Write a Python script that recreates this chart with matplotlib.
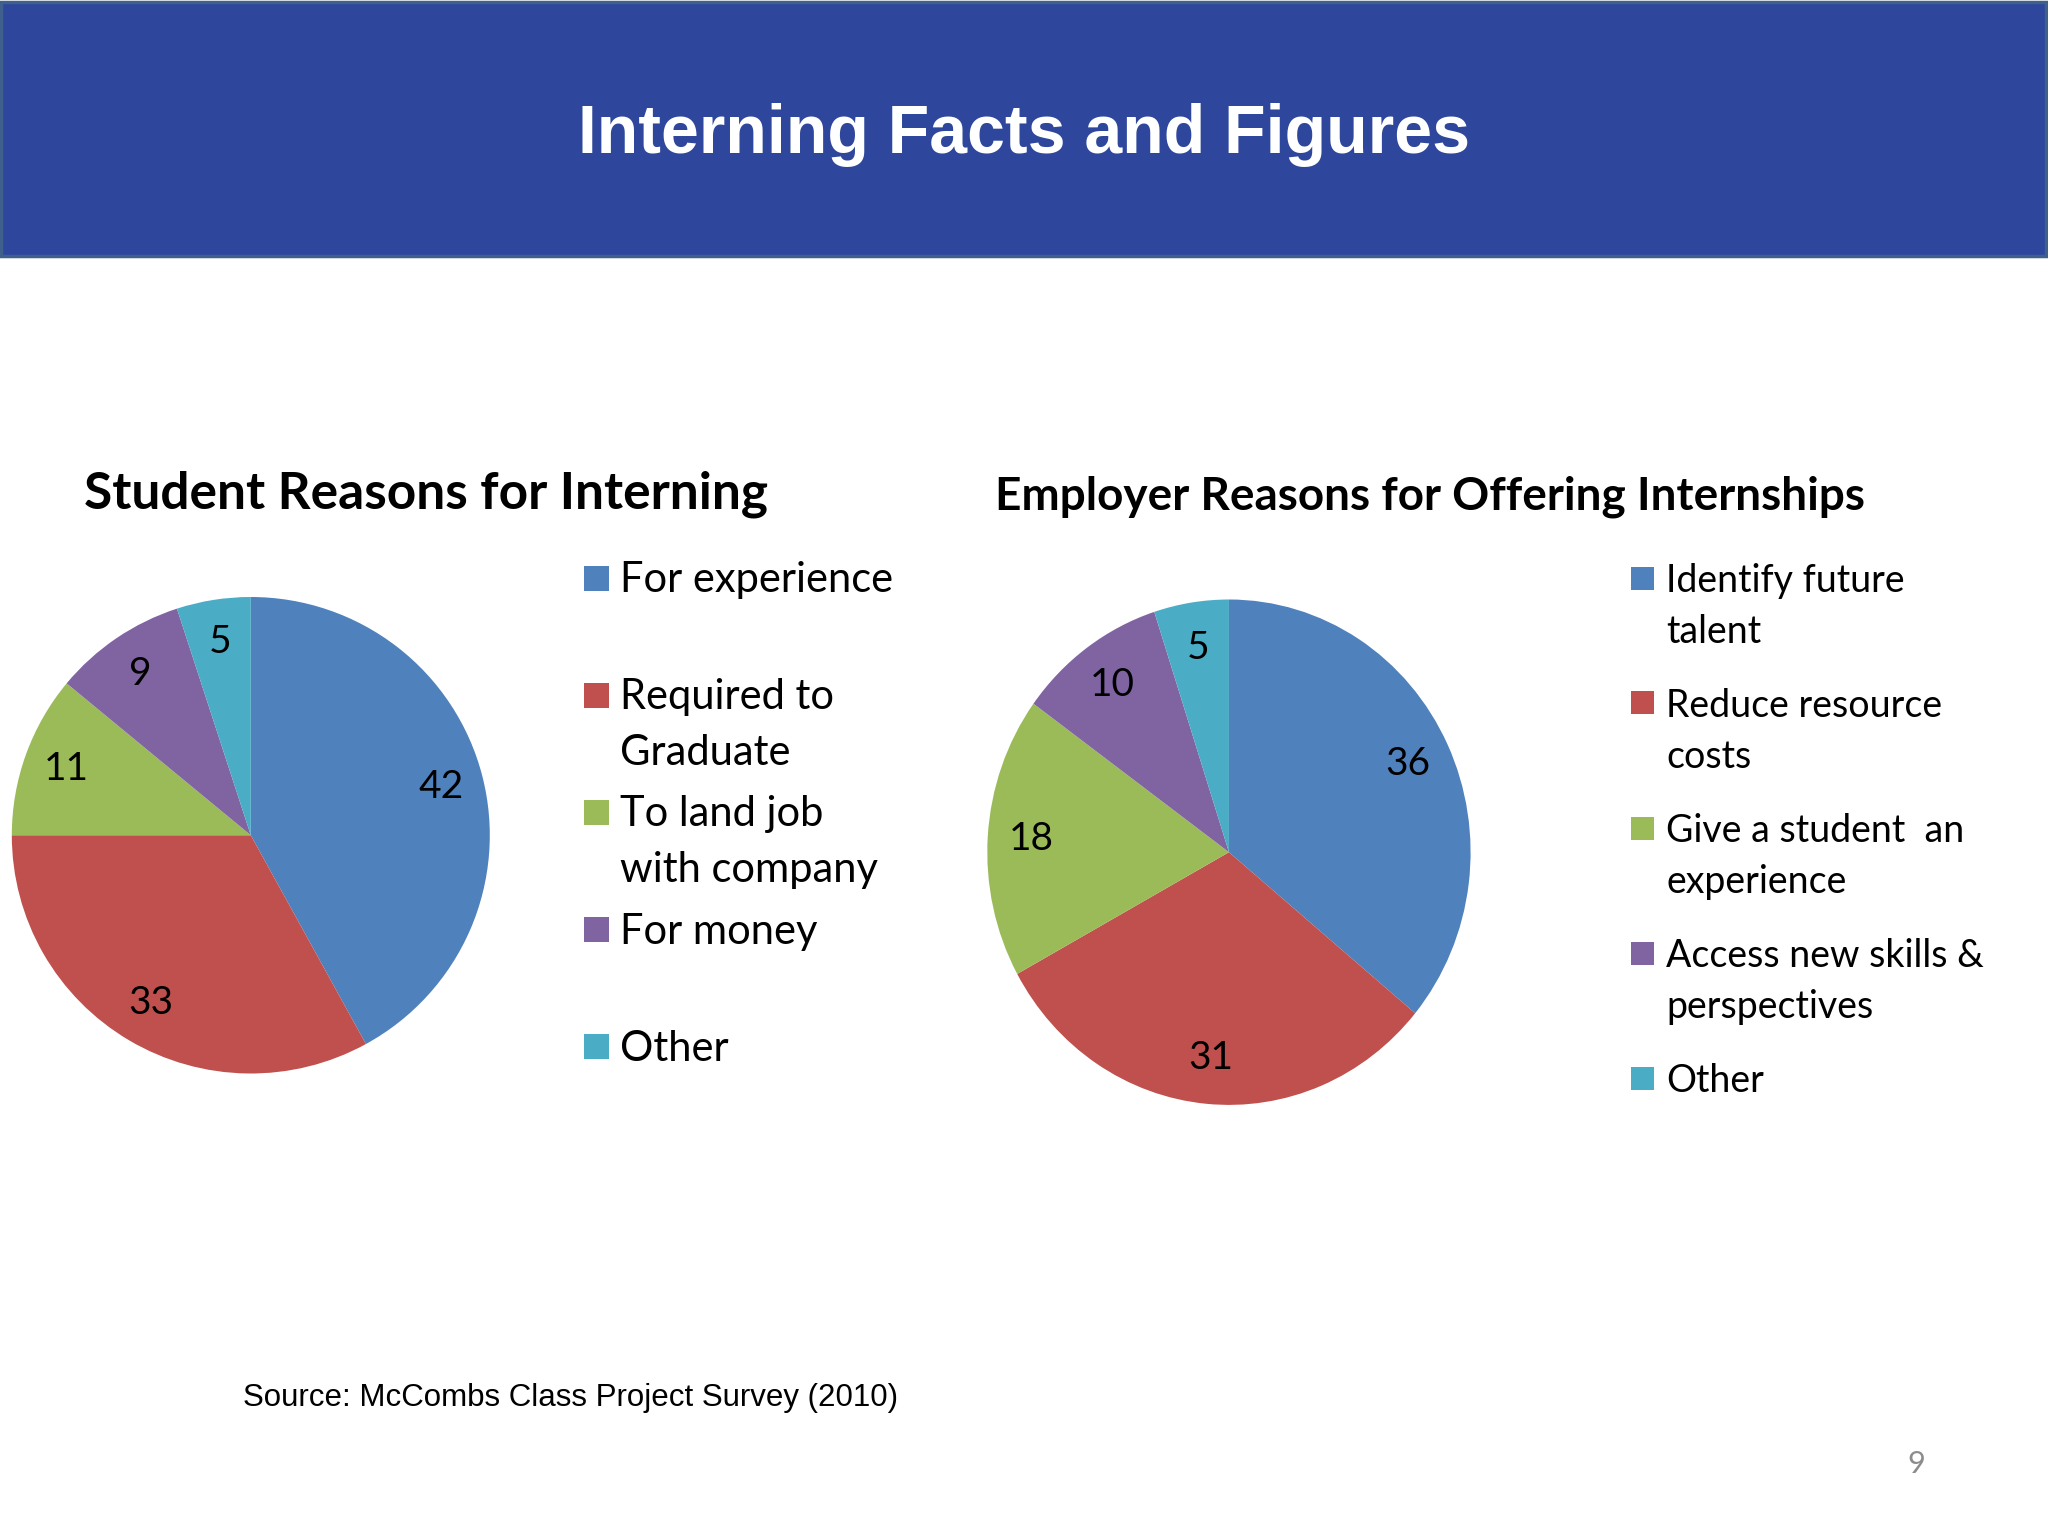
import matplotlib.pyplot as plt
from matplotlib.patches import Rectangle

# data
student_labels = ["For experience", "Required to\nGraduate", "To land job\nwith company", "For money", "Other"]
student_values = [42, 33, 11, 9, 5]
employer_labels = ["Identify future\ntalent", "Reduce resource\ncosts", "Give a student  an\nexperience",
                   "Access new skills &\nperspectives", "Other"]
employer_values = [36, 31, 18, 10, 5]
colors = ["#4F81BD", "#C0504D", "#9BBB59", "#8064A2", "#4BACC6"]

W, H = 2048, 1536
fig = plt.figure(figsize=(W / 100, H / 100), dpi=100)
fig.patch.set_facecolor("white")

def fx(px):
    return px / W

def fy(py):
    return 1 - py / H

# header band
fig.patches.append(Rectangle((fx(1), fy(256)), fx(2045), 256 / H - 0.001, transform=fig.transFigure,
                             facecolor="#2E479C", edgecolor="#3F5F8C", linewidth=2.5))
fig.text(0.5, fy(135), "Interning Facts and Figures", ha="center", va="center", color="white",
         fontsize=49, fontweight="bold", family="Liberation Sans")

body = "Lato"

def draw_pie(box, values, title, title_x, title_size):
    ax = fig.add_axes(box)
    total = sum(values)
    ax.pie(values, colors=colors, startangle=90, counterclock=False, radius=1,
           wedgeprops=dict(linewidth=0),
           autopct=lambda p: "%d" % round(p * total / 100), pctdistance=0.82,
           textprops=dict(fontsize=28, family=body, color="black"))
    ax.set_aspect("auto")
    ax.set_xlim(-1, 1)
    ax.set_ylim(-1, 1)
    ax.axis("off")
    fig.text(fx(title_x), fy(509), title, ha="left", va="baseline", fontsize=title_size,
             fontweight="bold", family=body)

def draw_legend(labels, sq_x, sq_size, text_x, base0, step, line_h, size):
    for i, lab in enumerate(labels):
        base = base0 + i * step
        fig.patches.append(Rectangle((fx(sq_x), fy(base - 14 + sq_size / 2)), fx(sq_size), sq_size / H,
                                     transform=fig.transFigure, facecolor=colors[i], edgecolor="none"))
        for j, line in enumerate(lab.split("\n")):
            fig.text(fx(text_x), fy(base + j * line_h), line, ha="left", va="baseline",
                     fontsize=size, family=body)

# left pie
draw_pie([fx(11.8), fy(1073.5), fx(478), 476.5 / H], student_values, "Student Reasons for Interning", 84, 37)
draw_legend(student_labels, 584, 25, 620, 592, 117.2, 56, 30)

# right pie
draw_pie([fx(987.3), fy(1104.9), fx(483.3), 505.4 / H], employer_values,
         "Employer Reasons for Offering Internships", 995, 33)
draw_legend(employer_labels, 1631, 23, 1666, 592, 125.0, 51, 27)

fig.text(fx(243), fy(1398), "Source: McCombs Class Project Survey (2010)", ha="left", va="center",
         fontsize=22.5, family="Liberation Sans")
fig.text(fx(1916), fy(1464), "9", ha="center", va="center", fontsize=22, family=body, color="#8C8C8C")

fig.savefig("out.png", dpi=100)
